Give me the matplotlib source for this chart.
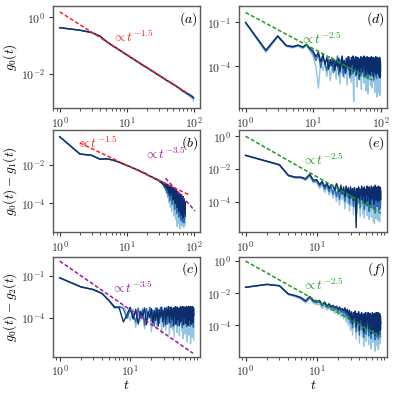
import matplotlib.pyplot as plt
from matplotlib.ticker import FixedLocator, FuncFormatter, LogLocator, NullFormatter
import numpy as np

plt.rcParams['mathtext.fontset'] = 'cm'
plt.rcParams['font.family'] = ['DejaVu Serif']

# time grids
t100 = np.arange(1, 101)
t80 = np.arange(1, 81)
t75 = np.arange(1, 76)
t_a = [1, 2, 3, 4, 5, 6, 7, 8, 9, 10, 12, 14, 16, 18, 20, 25, 30, 35, 40, 45, 50,
       55, 60, 65, 70, 74, 78, 82, 86, 90, 94, 98, 100]

# log10 values, three runs per panel: dark, mid, light
a_dark = [-0.36, -0.45, -0.53, -0.66, -0.85, -0.98, -1.08, -1.17, -1.25, -1.32, -1.44,
          -1.54, -1.63, -1.71, -1.77, -1.92, -2.04, -2.14, -2.23, -2.30, -2.37, -2.43,
          -2.49, -2.55, -2.60, -2.62, -2.67, -2.70, -2.71, -2.76, -2.77, -2.82, -2.83]
a_mid = a_dark[:24] + [-2.61, -2.65, -2.66, -2.73, -2.72, -2.78, -2.80, -2.83, -2.87]
a_light = a_dark[:22] + [-2.50, -2.57, -2.63, -2.66, -2.71, -2.72, -2.78, -2.79, -2.86,
                         -2.88, -2.95]

b_dark = [-0.56, -1.45, -1.52, -1.72, -1.70, -1.75, -1.82, -1.90, -1.97, -2.04, -2.09,
          -2.15, -2.20, -2.25, -2.29, -2.34, -2.38, -2.42, -2.46, -2.50, -2.55, -2.57,
          -2.62, -2.63, -2.68, -2.69, -2.75, -2.74, -2.80, -2.79, -2.88, -2.84, -2.95,
          -2.88, -3.02, -2.92, -3.10, -2.95, -3.20, -3.00, -3.30, -3.05, -3.45, -3.08,
          -3.60, -3.12, -3.50, -3.15, -3.80, -3.20, -3.65, -3.25, -4.00, -3.30, -3.70,
          -3.35, -4.20, -3.40, -3.80, -3.45, -4.40, -3.50, -3.90, -3.60, -4.60, -3.55,
          -4.10, -3.70, -4.75, -3.65, -4.30, -3.80, -4.50, -3.90, -4.65]
b_mid = b_dark[:30] + [-2.85, -2.92, -2.88, -3.00, -2.95, -3.15, -3.00, -3.30, -3.05,
                       -3.45, -3.10, -3.60, -3.15, -3.85, -3.20, -3.70, -3.25, -4.05,
                       -3.30, -3.85, -3.35, -4.30, -3.40, -3.95, -3.50, -4.50, -3.55,
                       -4.15, -3.60, -4.70, -3.65, -4.25, -3.75, -4.85, -3.80, -4.40,
                       -3.85, -4.95, -3.90, -4.55, -4.00, -5.00, -4.05, -4.70, -4.15]
b_light = b_dark[:35] + [-3.00, -3.20, -3.05, -3.45, -3.10, -3.70, -3.15, -3.95, -3.20,
                         -4.20, -3.25, -4.40, -3.35, -4.10, -3.40, -4.65, -3.45, -4.30,
                         -3.55, -4.85, -3.60, -5.20, -3.70, -4.60, -3.75, -5.05, -3.80,
                         -5.30, -3.90, -4.80, -3.95, -5.15, -4.05, -4.90, -4.10, -5.25,
                         -4.20, -4.95, -4.25, -5.10]

c_dark = [-1.14, -1.79, -1.98, -2.26, -2.75, -3.23, -3.30, -4.30, -3.80, -3.25, -4.10,
          -3.40, -4.45, -3.55, -3.90, -3.30, -4.50, -3.60, -4.00, -3.35, -4.40, -3.50,
          -4.20, -3.30, -4.60, -3.45, -3.95, -3.25, -4.30, -3.60, -3.30, -4.50, -3.40,
          -3.85, -3.20, -4.35, -3.55, -3.25, -4.10, -3.40, -4.60, -3.30, -3.90, -3.20,
          -4.45, -3.50, -3.25, -4.15, -3.35, -4.55, -3.45, -3.20, -4.25, -3.30, -3.95,
          -3.20, -4.50, -3.40, -3.25, -4.05, -3.30, -4.40, -3.20, -3.75, -3.25, -4.55,
          -3.35, -3.20, -4.20, -3.30, -3.90, -3.20, -4.45, -3.30, -3.25, -4.10, -3.20,
          -4.35, -3.30, -3.85]
c_mid = [-1.14, -1.79, -1.98, -2.27, -2.78, -3.30, -3.20, -3.35, -4.05, -3.45, -3.75,
         -4.30, -3.30, -4.00, -3.45, -4.55, -3.35, -3.85, -3.25, -4.25, -3.45, -4.60,
         -3.30, -3.95, -3.40, -4.40, -3.25, -3.80, -3.45, -4.65, -3.35, -4.05, -3.25,
         -4.45, -3.40, -3.90, -3.25, -4.70, -3.40, -4.15, -3.30, -3.75, -4.50, -3.35,
         -3.95, -3.25, -4.60, -3.40, -3.85, -3.30, -4.35, -3.45, -3.90, -3.25, -4.70,
         -3.40, -3.85, -3.25, -4.45, -3.35, -3.90, -3.25, -4.65, -3.40, -4.05, -3.30,
         -4.40, -3.45, -3.80, -3.25, -4.60, -3.35, -3.95, -3.25, -4.50, -3.40, -3.85,
         -3.30, -4.70, -3.40]
c_light = [-1.15, -1.80, -2.00, -2.28, -2.80, -3.20, -3.25, -3.20, -3.60, -4.20, -3.35,
           -4.70, -3.50, -4.25, -3.30, -4.80, -3.55, -4.10, -3.40, -5.00, -3.60, -4.30,
           -3.35, -4.75, -3.50, -4.20, -3.30, -5.10, -3.55, -4.40, -3.30, -4.90, -3.45,
           -4.15, -3.25, -5.20, -3.50, -4.35, -3.30, -4.85, -3.45, -5.40, -3.35, -4.25,
           -3.25, -5.05, -3.50, -4.45, -3.30, -5.30, -3.40, -4.20, -3.25, -4.95, -3.45,
           -5.50, -3.35, -4.30, -3.25, -5.15, -3.50, -4.60, -3.30, -5.70, -3.40, -4.40,
           -3.25, -5.25, -3.45, -4.70, -3.30, -5.85, -3.50, -4.50, -3.25, -5.40, -3.35,
           -4.80, -3.30, -5.60]

d_dark = [-1.00, -2.90, -1.92, -2.58, -2.65, -2.55, -2.68, -2.50, -2.78, -2.95, -3.35,
          -3.05, -3.70, -3.20, -3.90, -3.40, -4.20, -3.55, -3.95, -3.50, -4.30, -3.65,
          -4.05, -3.45, -4.40, -3.70, -3.30, -4.15, -3.60, -4.50, -3.45, -3.95, -3.35,
          -4.25, -3.60, -4.60, -3.40, -3.85, -3.30, -4.35, -3.55, -4.05, -3.35, -4.55,
          -3.70, -3.40, -4.20, -3.50, -4.70, -3.60, -3.35, -4.10, -3.55, -4.40, -3.40,
          -3.90, -3.30, -4.25, -3.65, -4.65, -3.45, -3.95, -3.35, -4.30, -3.60, -4.50,
          -3.40, -3.85, -3.55, -4.60, -3.45, -4.05, -3.35, -4.35, -3.60, -3.90, -3.40,
          -4.70, -3.55, -4.15, -3.45, -4.40, -3.60, -3.95, -3.35, -4.55, -3.50, -4.10,
          -3.40, -4.45, -3.65, -3.95, -3.45, -4.60, -3.55, -4.20, -3.40, -4.80, -3.70,
          -4.30]
d_mid = [-1.02, -2.95, -1.95, -2.60, -2.70, -2.58, -2.72, -2.55, -2.85, -3.10, -3.60,
         -3.20, -4.10, -3.45, -3.75, -4.30, -3.50, -4.00, -3.40, -4.45, -3.60, -3.90,
         -3.30, -4.60, -3.55, -4.05, -3.40, -4.70, -3.70, -3.95, -4.40, -3.50, -4.15,
         -3.35, -4.80, -3.60, -4.00, -3.45, -4.50, -3.70, -4.20, -3.40, -4.65, -3.55,
         -3.95, -4.35, -3.45, -4.90, -3.60, -4.10, -3.50, -4.55, -3.75, -3.40, -4.30,
         -3.65, -4.75, -3.50, -4.05, -3.40, -4.60, -3.70, -4.20, -3.55, -4.85, -3.45,
         -4.00, -3.65, -4.40, -3.50, -4.70, -3.60, -4.15, -3.45, -4.55, -3.70, -4.25,
         -3.50, -4.95, -3.60, -4.10, -3.45, -4.65, -3.55, -4.30, -3.70, -4.85, -3.50,
         -4.05, -3.60, -4.50, -3.45, -4.20, -3.65, -4.75, -3.55, -4.00, -3.50, -4.60,
         -3.70]
d_light = [-1.05, -3.05, -2.00, -2.65, -2.75, -2.62, -2.80, -2.60, -2.95, -3.30, -4.00,
           -5.50, -3.60, -4.30, -3.80, -4.70, -3.70, -5.00, -3.90, -4.40, -3.65, -4.90,
           -3.85, -4.25, -5.20, -3.75, -4.50, -3.60, -4.80, -3.95, -4.35, -5.30, -3.70,
           -4.60, -3.80, -4.20, -5.10, -3.65, -4.45, -6.40, -3.90, -4.70, -3.75, -4.30,
           -5.40, -3.85, -4.55, -3.70, -4.95, -3.95, -4.40, -5.60, -3.80, -4.65, -3.70,
           -4.25, -5.15, -3.90, -4.50, -3.75, -5.70, -4.05, -4.40, -3.80, -5.90, -3.95,
           -4.60, -3.70, -4.85, -4.10, -5.30, -3.85, -4.45, -3.75, -5.50, -4.00, -4.70,
           -3.80, -5.05, -3.95, -4.35, -5.80, -3.85, -4.60, -3.75, -5.25, -4.10, -6.10,
           -3.90, -4.50, -3.80, -5.45, -4.05, -4.75, -5.85, -3.95, -4.40, -6.00, -4.10,
           -4.65]

e_dark = [-1.17, -1.53, -1.74, -2.39, -2.50, -2.50, -2.60, -2.32, -2.70, -2.65, -2.95,
          -2.75, -3.10, -2.85, -3.20, -2.95, -3.05, -3.30, -2.90, -3.15, -3.40, -3.00,
          -3.55, -3.10, -3.70, -3.05, -3.45, -3.15, -3.80, -3.10, -3.60, -3.20, -3.95,
          -3.15, -3.50, -5.60, -3.20, -3.75, -3.10, -4.05, -3.25, -3.60, -3.05, -3.90,
          -3.20, -3.70, -3.10, -4.10, -3.25, -3.55, -3.05, -3.95, -3.20, -3.65, -3.10,
          -4.20, -3.30, -3.50, -3.05, -3.85, -3.20, -3.70, -3.10, -4.15, -3.25, -3.60,
          -3.00, -3.90, -3.20, -3.75, -3.10, -4.00, -3.25, -3.55, -3.05, -3.95, -3.20,
          -3.70, -3.15, -3.85]
e_mid = [-1.17, -1.54, -1.76, -2.41, -2.52, -2.53, -2.64, -2.38, -2.78, -2.72, -3.05,
         -2.85, -3.25, -2.95, -3.40, -3.05, -3.55, -3.15, -3.70, -3.20, -3.85, -3.15,
         -3.50, -3.25, -4.00, -3.20, -3.70, -3.35, -4.15, -3.25, -3.80, -3.40, -4.30,
         -3.30, -3.90, -3.20, -4.20, -3.35, -3.70, -3.25, -4.40, -3.30, -3.85, -3.20,
         -4.10, -3.40, -4.50, -3.25, -3.80, -3.30, -4.25, -3.35, -3.95, -3.20, -4.60,
         -3.30, -3.75, -3.25, -4.35, -3.40, -3.90, -3.20, -4.45, -3.35, -4.05, -3.25,
         -4.70, -3.30, -3.85, -3.20, -4.30, -3.40, -3.95, -3.25, -4.55, -3.30, -4.00,
         -3.20, -4.40, -3.35]
e_light = [-1.18, -1.56, -1.78, -2.44, -2.56, -2.57, -2.70, -2.45, -2.85, -2.80, -3.20,
           -2.95, -3.45, -3.10, -3.60, -3.25, -3.80, -3.30, -4.00, -3.35, -4.20, -3.40,
           -3.90, -3.35, -4.45, -3.30, -4.10, -3.45, -4.60, -3.35, -4.25, -3.40, -4.80,
           -3.30, -4.35, -3.45, -4.70, -3.35, -4.15, -3.30, -4.90, -3.45, -4.30, -3.35,
           -4.75, -3.40, -5.00, -3.30, -4.40, -3.45, -4.85, -3.35, -4.20, -3.30, -5.10,
           -3.40, -4.50, -3.35, -4.95, -3.30, -4.35, -3.45, -5.20, -3.35, -5.35, -3.40,
           -4.60, -3.30, -5.05, -3.45, -4.45, -3.35, -5.15, -3.30, -4.70, -3.40, -5.25,
           -3.35, -4.55, -3.45]

f_dark = [-1.63, -1.45, -1.53, -2.04, -2.14, -2.26, -2.47, -2.20, -2.45, -2.52, -2.45,
          -2.70, -2.55, -2.80, -2.65, -2.85, -2.75, -2.90, -2.80, -3.00, -2.85, -3.05,
          -2.95, -3.10, -2.90, -3.20, -3.00, -3.35, -3.05, -3.60, -3.15, -3.90, -3.20,
          -3.50, -3.10, -4.10, -3.25, -3.70, -3.15, -4.30, -3.30, -3.60, -3.20, -4.00,
          -3.35, -4.45, -3.25, -3.80, -3.20, -4.20, -3.40, -3.65, -3.20, -4.35, -3.30,
          -3.85, -3.25, -4.50, -3.40, -3.70, -3.20, -4.25, -3.35, -3.95, -3.25, -4.60,
          -3.40, -3.75, -3.20, -4.40, -3.30, -3.90, -3.20, -4.55, -3.35, -3.80, -3.25,
          -4.30, -3.40, -3.90]
f_mid = [-1.63, -1.45, -1.54, -2.06, -2.17, -2.30, -2.52, -2.25, -2.52, -2.60, -2.55,
         -2.80, -2.65, -2.90, -2.75, -2.95, -2.85, -3.05, -2.90, -3.15, -2.95, -3.20,
         -3.05, -3.30, -3.05, -3.45, -3.15, -3.60, -3.20, -3.85, -3.30, -4.15, -3.35,
         -3.75, -3.25, -4.40, -3.40, -3.95, -3.30, -4.60, -3.45, -3.85, -3.35, -4.30,
         -3.50, -4.75, -3.40, -4.05, -3.35, -4.55, -3.55, -3.90, -3.35, -4.65, -3.45,
         -4.10, -3.40, -4.80, -3.55, -3.95, -3.35, -4.50, -3.50, -4.20, -3.40, -4.90,
         -3.55, -4.00, -3.35, -4.70, -3.45, -4.15, -3.35, -4.85, -3.50, -4.05, -3.40,
         -4.60, -3.55, -4.20]
f_light = [-1.64, -1.46, -1.56, -2.10, -2.22, -2.36, -2.60, -2.32, -2.62, -2.70, -2.68,
           -2.95, -2.80, -3.05, -2.90, -3.10, -3.00, -3.25, -3.05, -3.35, -3.10, -3.45,
           -3.20, -3.60, -3.20, -3.80, -3.30, -4.00, -3.35, -4.30, -3.45, -4.60, -3.50,
           -4.10, -3.40, -4.85, -3.55, -4.35, -3.45, -5.10, -3.60, -4.25, -3.50, -4.70,
           -3.65, -5.30, -3.55, -4.45, -3.50, -5.00, -3.70, -4.30, -3.50, -5.20, -3.60,
           -4.55, -3.55, -5.45, -3.70, -4.40, -3.50, -5.05, -3.65, -4.65, -3.55, -5.60,
           -3.70, -4.50, -3.50, -5.25, -3.60, -4.70, -3.50, -5.50, -3.65, -4.60, -3.55,
           -5.15, -3.70, -4.80]

# power-law guides: (t_start, t_end), (log10 start, log10 end), label, label position
red, purple, green = '#ff1f1f', '#9c1a9c', '#1f9a1f'
guides = {
    'a': [((1, 78), (0.20, -2.65), red, r'$\propto t^{-1.5}$', (6.0, -0.69))],
    'b': [((2, 85), (-0.88, -3.55), red, r'$\propto t^{-1.5}$', (1.75, -0.87)),
          ((38, 105), (-2.70, -4.38), purple, r'$\propto t^{-3.5}$', (18.0, -1.44))],
    'c': [((1, 78), (0.06, -6.55), purple, r'$\propto t^{-3.5}$', (5.4, -1.90))],
    'd': [((1, 75), (-0.32, -4.95), green, r'$\propto t^{-2.5}$', (6.5, -2.11))],
    'e': [((1, 80), (0.00, -4.71), green, r'$\propto t^{-2.5}$', (6.2, -1.43))],
    'f': [((1, 80), (0.00, -4.70), green, r'$\propto t^{-2.5}$', (6.2, -1.48))],
}

panels = {
    'a': (t_a, a_dark, a_mid, a_light),
    'b': (t75, b_dark, b_mid, b_light),
    'c': (t80, c_dark, c_mid, c_light),
    'd': (t100, d_dark, d_mid, d_light),
    'e': (t80, e_dark, e_mid, e_light),
    'f': (t80, f_dark, f_mid, f_light),
}
ylims = {'a': (-3.2, 0.39), 'b': (-5.47, -0.24), 'c': (-6.78, 0.35),
         'd': (-6.86, 0.09), 'e': (-5.86, 0.35), 'f': (-5.93, 0.25)}
xlims = {'a': (-0.1, 2.1), 'b': (-0.1, 2.1), 'd': (-0.1, 2.1),
         'c': (-0.095, 1.995), 'e': (-0.095, 1.995), 'f': (-0.095, 1.995)}
yticks = {'a': [0, -2], 'b': [-2, -4], 'c': [-1, -4],
          'd': [-1, -4], 'e': [0, -2, -4], 'f': [0, -2, -4]}
ylabels = {'a': r'$g_0(t)$', 'b': r'$g_0(t)-g_1(t)$', 'c': r'$g_0(t)-g_2(t)$'}

# axes rectangles in figure fraction
rects = {
    'a': [0.1335, 0.728, 0.371, 0.2557],
    'b': [0.1335, 0.4156, 0.371, 0.2557],
    'c': [0.1335, 0.102, 0.371, 0.2506],
    'd': [0.6016, 0.728, 0.374, 0.2557],
    'e': [0.6016, 0.4156, 0.374, 0.2557],
    'f': [0.6016, 0.102, 0.374, 0.2506],
}

colors = ['#0b2d6b', '#2f6db0', '#93c4e4']
fmt = FuncFormatter(lambda v, p: r'$10^{%d}$' % round(np.log10(v)))

fig = plt.figure(figsize=(3.97, 3.97), dpi=100)
for key, (t, dark, mid, light) in panels.items():
    ax = fig.add_axes(rects[key])
    for vals, col in zip([light, mid, dark], colors[::-1]):
        ax.plot(t, 10 ** np.array(vals), color=col, lw=1.0)
    for (ts, ls, col, lab, (lx, ly)) in guides[key]:
        ax.plot(ts, 10 ** np.array(ls), color=col, lw=1.1, dashes=(2.6, 1.4))
        ax.text(lx, 10 ** ly, lab, color=col, fontsize=9.5, va='center')
    ax.set_xscale('log')
    ax.set_yscale('log')
    ax.set_xlim(10 ** xlims[key][0], 10 ** xlims[key][1])
    ax.set_ylim(10 ** ylims[key][0], 10 ** ylims[key][1])
    ax.yaxis.set_major_locator(FixedLocator([10.0 ** k for k in yticks[key]]))
    ax.yaxis.set_minor_locator(FixedLocator([]))
    ax.xaxis.set_major_locator(LogLocator(base=10))
    ax.xaxis.set_minor_locator(LogLocator(base=10, subs=np.arange(2, 10)))
    ax.xaxis.set_minor_formatter(NullFormatter())
    ax.xaxis.set_major_formatter(fmt)
    ax.yaxis.set_major_formatter(fmt)
    ax.tick_params(labelsize=8.5, colors='0.2', length=3, width=0.8, pad=2.5)
    ax.tick_params(which='minor', length=1.8, width=0.6, colors='0.2')
    for s in ax.spines.values():
        s.set_color('0.35')
        s.set_linewidth(1.0)
    ax.text(0.985, 0.965, '$(%s)$' % key, transform=ax.transAxes,
            ha='right', va='top', fontsize=10)
    if key in ylabels:
        ax.set_ylabel(ylabels[key], fontsize=9.6, labelpad=1.5)
    if key in ('c', 'f'):
        ax.set_xlabel(r'$t$', fontsize=10, labelpad=-0.5)

fig.savefig('out.png', dpi=100)
